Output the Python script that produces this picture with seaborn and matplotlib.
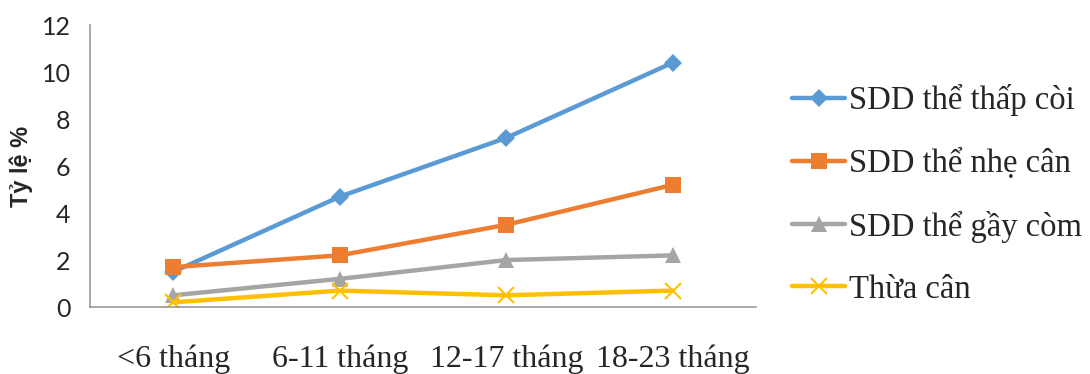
import matplotlib
matplotlib.use("Agg")
import matplotlib.pyplot as plt
import seaborn as sns
import pandas as pd

# Age groups and prevalence (%) per nutrition status
age_groups = ["<6 tháng", "6-11 tháng", "12-17 tháng", "18-23 tháng"]
stunting = [1.5, 4.7, 7.2, 10.4]
underweight = [1.7, 2.2, 3.5, 5.2]
wasting = [0.5, 1.2, 2.0, 2.2]
overweight = [0.2, 0.7, 0.5, 0.7]

series_names = ["SDD thể thấp còi", "SDD thể nhẹ cân", "SDD thể gầy còm", "Thừa cân"]
series_values = [stunting, underweight, wasting, overweight]
colors = ["#5B9BD5", "#ED7D31", "#A5A5A5", "#FFC000"]
markers = ["D", "s", "^", "x"]
marker_sizes = [9, 11, 11, 12]

rows = []
for name, vals in zip(series_names, series_values):
    for g, v in zip(age_groups, vals):
        rows.append({"Nhóm tuổi": g, "Tỷ lệ": v, "Nhóm": name})
df = pd.DataFrame(rows)

sns.set_style("white")
plt.rcParams["font.family"] = ["DejaVu Sans"]

fig = plt.figure(figsize=(10.9, 3.74), dpi=100)
ax = fig.add_axes([0.0826, 0.179, 0.611, 0.754])

for name, col, mk, ms in zip(series_names, colors, markers, marker_sizes):
    sub = df[df["Nhóm"] == name]
    sns.lineplot(data=sub, x="Nhóm tuổi", y="Tỷ lệ", ax=ax, color=col,
                 linewidth=3.2, marker=mk, markersize=ms,
                 markeredgecolor=col, markeredgewidth=1.5 if mk == "x" else 0,
                 label=name, sort=False)

ax.set_xlim(-0.5, len(age_groups) - 0.5)
ax.set_ylim(0, 12)
ax.set_yticks(range(0, 13, 2))

for s in ["top", "right"]:
    ax.spines[s].set_visible(False)
for s in ["left", "bottom"]:
    ax.spines[s].set_color("#9a9a9a")
    ax.spines[s].set_linewidth(1.2)

ax.tick_params(axis="both", length=0)
ax.tick_params(axis="y", pad=14)
ax.tick_params(axis="x", pad=27)
for lbl in ax.get_yticklabels():
    lbl.set_fontfamily("Lato")
    lbl.set_fontsize(18)
for lbl in ax.get_xticklabels():
    lbl.set_fontfamily("Liberation Serif")
    lbl.set_fontsize(23)

ax.set_xlabel("")
ax.set_ylabel("Tỷ lệ %", fontsize=17, fontweight="bold", fontfamily="Liberation Sans")
ax.yaxis.set_label_coords(-0.086, 0.50)

handles, labels = ax.get_legend_handles_labels()
ax.legend_.remove()
fig.legend(handles, labels, loc="center left", bbox_to_anchor=(0.727, 0.48),
           frameon=False, prop={"family": "Liberation Serif", "size": 23.5},
           borderaxespad=0, borderpad=0,
           handlelength=1.6, handletextpad=0.12, labelspacing=0.97)

fig.savefig("out.png", dpi=100)
